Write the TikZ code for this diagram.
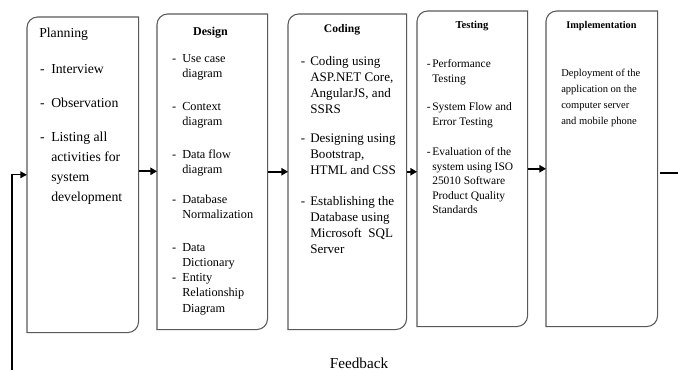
\documentclass[tikz,border=0pt]{standalone}
\usepackage{fontspec}
\setmainfont{Liberation Serif}
\usetikzlibrary{arrows.meta,calc}
\newlength\px
\setlength\px{0.75pt}
\newcommand\dsh[1]{\leavevmode\llap{-\hspace*{#1\px}}}
\newcommand\pb[1]{\parbox[t]{130\px}{#1}}
\newcommand\rbox[1]{%
  \draw[boxline] (#1.south west) -- ([yshift=-8pt]#1.north west)
    arc[start angle=180,end angle=90,radius=8pt] -- (#1.north east)
    -- ([yshift=8pt]#1.south east)
    arc[start angle=0,end angle=-90,radius=8pt] -- cycle;}
\tikzset{
  boxline/.style={draw=black!65, line width=0.8pt},
  stagebox/.style={draw=none, inner sep=0pt, anchor=north west, minimum height=315\px},
  tx/.style={anchor=base west, inner sep=0pt},
  ttl/.style={anchor=base, inner sep=0pt},
  flow/.style={line width=1.7pt, -{Triangle[length=5pt,width=5.5pt]}},
  fbline/.style={line width=1.1pt, -{Triangle[length=5pt,width=5pt]}},
  exitline/.style={line width=1.7pt},
  fplan/.style={font=\fontsize{10.3pt}{15pt}\selectfont},
  fdes/.style={font=\fontsize{9.2pt}{11.6pt}\selectfont},
  fcod/.style={font=\fontsize{9.8pt}{11.8pt}\selectfont},
  ftes/.style={font=\fontsize{8.6pt}{10.9pt}\selectfont},
  fimp/.style={font=\fontsize{7.9pt}{12pt}\selectfont},
}
\begin{document}
\begin{tikzpicture}[x=0.75pt,y=-0.75pt]
\path[use as bounding box] (0,0) rectangle (678,370);

% boxes
\node[stagebox, minimum width=111\px] (plan) at (27,17) {};
\node[stagebox, minimum width=110\px] (des) at (157,14) {};
\node[stagebox, minimum width=118\px] (cod) at (288,14) {};
\node[stagebox, minimum width=110\px] (tes) at (417,11) {};
\node[stagebox, minimum width=111\px] (imp) at (546,11) {};
\rbox{plan}\rbox{des}\rbox{cod}\rbox{tes}\rbox{imp}

% Planning
\node[tx, fplan] (pt) at (39,38) {Planning};
\node[tx, fplan] (p1) at (51,74) {\pb{\dsh{6.5}Interview}};
\node[tx, fplan] (p2) at (51,108) {\pb{\dsh{6.5}Observation}};
\node[tx, fplan] (p3) at (51,142) {\pb{\dsh{6.5}Listing all\\activities for\\system\\development}};

% Design
\node[ttl, font=\fontsize{9pt}{11pt}\selectfont\bfseries] (dt) at (210.5,36) {Design};
\node[tx, fdes] (d1) at (182,62.5) {\pb{\dsh{6}Use case\\diagram}};
\node[tx, fdes] (d2) at (182,110.5) {\pb{\dsh{6}Context\\diagram}};
\node[tx, fdes] (d3) at (182,158.5) {\pb{\dsh{6}Data flow\\diagram}};
\node[tx, fdes] (d4) at (182,203.5) {\pb{\dsh{6}Database\\Normalization}};
\node[tx, fdes] (d5) at (182,251.5) {\pb{\dsh{6}Data\\Dictionary}};
\node[tx, fdes] (d6) at (182,281.5) {\pb{\dsh{6}Entity\\Relationship\\Diagram}};

% Coding
\node[ttl, font=\fontsize{8.7pt}{11pt}\selectfont\bfseries] (ct) at (342,33) {Coding};
\node[tx, fcod] (c1) at (310,66) {\pb{\dsh{5}Coding using\\ASP.NET Core,\\AngularJS, and\\SSRS}};
\node[tx, fcod] (c2) at (310,143) {\pb{\dsh{5}Designing using\\Bootstrap,\\HTML and CSS}};
\node[tx, fcod] (c3) at (310,206) {\pb{\dsh{5}Establishing the\\Database using\\Microsoft\ \ SQL\\Server}};

% Testing
\node[ttl, font=\fontsize{8pt}{10pt}\selectfont\bfseries] (tt) at (472,29) {Testing};
\node[tx, ftes] (t1) at (432,67.5) {\pb{\dsh{1.5}Performance\\Testing}};
\node[tx, ftes] (t2) at (432,110.5) {\pb{\dsh{1.5}System Flow and\\Error Testing}};
\node[tx, ftes] (t3) at (432,155.5) {\pb{\dsh{1.5}Evaluation of the\\system using ISO\\25010 Software\\Product Quality\\Standards}};

% Implementation
\node[ttl, font=\fontsize{7.7pt}{10pt}\selectfont\bfseries] (it) at (601.5,28.5) {Implementation};
\node[tx, fimp] (i1) at (561,76.5) {\pb{Deployment of the\\application on the\\computer server\\and mobile phone}};

% flow arrows
\draw[flow] ([yshift=2.6pt]plan.east) -- ([yshift=2.6pt]plan.east -| des.west);
\draw[flow] (des.east) -- (des.east -| cod.west);
\draw[flow] (cod.east) -- (cod.east -| tes.west);
\draw[flow] (tes.east) -- (tes.east -| imp.west);
\coordinate (exit) at (678,173);
\draw[exitline] ([xshift=2.2pt]imp.east |- exit) -- (exit);

% feedback
\coordinate (fb) at (12,370);
\draw[fbline] (fb) |- (plan.west);
\node[ttl, font=\fontsize{11.4pt}{13pt}\selectfont] (fbt) at (359,368) {Feedback};
\end{tikzpicture}
\end{document}
